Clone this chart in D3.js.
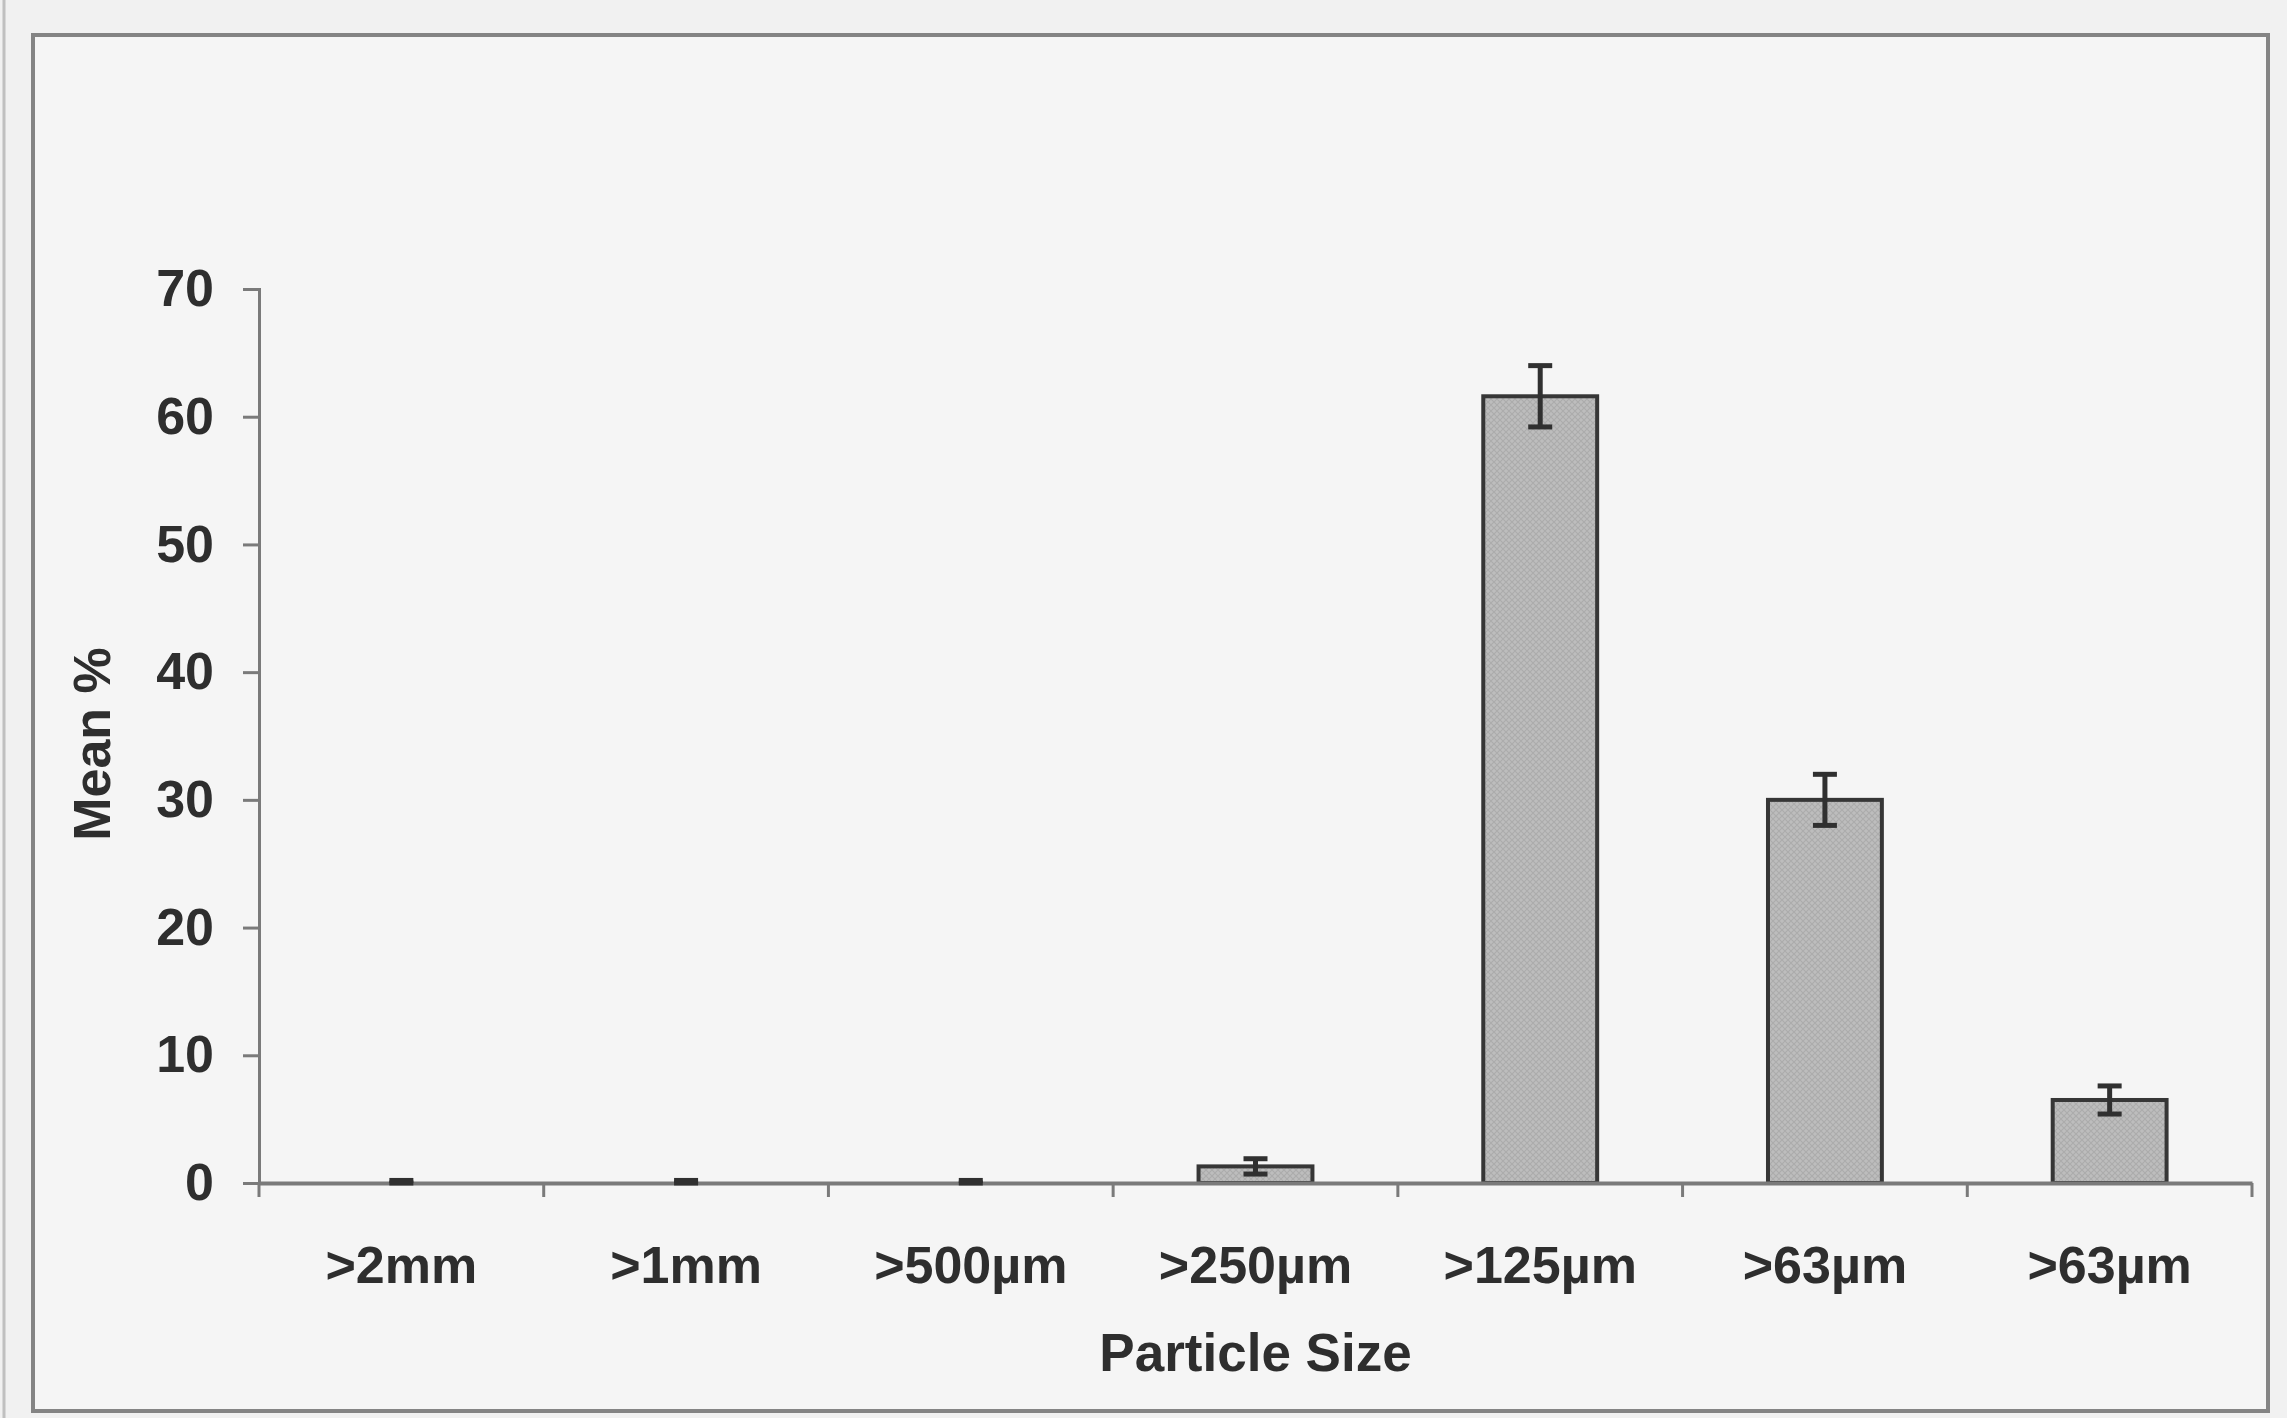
<!DOCTYPE html>
<html>
<head>
<meta charset="utf-8">
<script src="https://cdn.jsdelivr.net/npm/d3@7"></script>
<style>
  html, body { margin: 0; padding: 0; background: #f3f3f3; }
  svg { display: block; }
  text { font-family: "Liberation Sans", Arial, sans-serif; font-weight: bold; fill: #2e2e2e; }
</style>
</head>
<body>
<svg id="chart" width="2287" height="1418"></svg>
<script>
// Particle size fractions and their mean share (%) with error bars
const categories = [">2mm", ">1mm", ">500µm", ">250µm", ">125µm", ">63µm", ">63µm"];
const meanPct    = [0.05, 0.05, 0.05, 1.3, 61.6, 30.0, 6.5];
const errPct     = [0.15, 0.15, 0.15, 0.6, 2.4, 2.0, 1.1];
const yTicks     = [0, 10, 20, 30, 40, 50, 60, 70];

const svg = d3.select("#chart");
const W = 2287, H = 1418;

// plot area
const x0 = 259, x1 = 2252, yBase = 1183, yTop = 289;

// page background and chart frame
svg.append("rect").attr("width", W).attr("height", H).attr("fill", "#f1f1f1");
svg.append("line").attr("x1", 4).attr("x2", 4).attr("y1", 0).attr("y2", H)
  .attr("stroke", "#c0c0c0").attr("stroke-width", 3);
svg.append("rect")
  .attr("x", 33).attr("y", 35).attr("width", 2235).attr("height", 1376)
  .attr("fill", "#f5f5f5").attr("stroke", "#848484").attr("stroke-width", 4);

// bar fill: fine crosshatch
const defs = svg.append("defs");
const pat = defs.append("pattern").attr("id", "hatch")
  .attr("width", 6).attr("height", 6).attr("patternUnits", "userSpaceOnUse");
pat.append("rect").attr("width", 6).attr("height", 6).attr("fill", "#bdbdbd");
pat.append("path").attr("d", "M0,0 L6,6 M6,0 L0,6")
  .attr("stroke", "#acacac").attr("stroke-width", 1.2);

const idx = d3.range(categories.length);
const x = d3.scaleBand().domain(idx).range([x0, x1]).paddingInner(0.6).paddingOuter(0.3);
const edge = d3.scaleLinear().domain([0, categories.length]).range([x0, x1]);
const y = d3.scaleLinear().domain([0, 70]).range([yBase, yTop]);

// y axis
const yAxis = svg.append("g").attr("transform", `translate(${x0},0)`)
  .call(d3.axisLeft(y).tickValues(yTicks).tickSize(16).tickPadding(29).tickFormat(d3.format("d")));
yAxis.select(".domain").attr("stroke", "#7a7a7a").attr("stroke-width", 3);
yAxis.selectAll(".tick line").attr("stroke", "#7a7a7a").attr("stroke-width", 3);
yAxis.selectAll("text").style("font-size", "52px").attr("fill", "#2e2e2e");

// bars (outline only where the bar is tall enough to stand off the axis)
svg.append("g").selectAll("rect").data(idx).join("rect")
  .attr("x", i => x(i))
  .attr("y", i => y(meanPct[i]))
  .attr("width", x.bandwidth())
  .attr("height", i => yBase - y(meanPct[i]))
  .attr("fill", "url(#hatch)")
  .attr("stroke", i => (yBase - y(meanPct[i]) > 3 ? "#363636" : "none"))
  .attr("stroke-width", 4);

// x axis: line, ticks at category boundaries, labels centred under bars
const xAxis = svg.append("g").attr("transform", `translate(0,${yBase})`)
  .call(d3.axisBottom(x).tickSize(0).tickPadding(63).tickFormat(i => categories[i]));
xAxis.select(".domain").attr("stroke", "#7a7a7a").attr("stroke-width", 4);
xAxis.selectAll("text").style("font-size", "52px").attr("fill", "#2e2e2e");
svg.append("g").selectAll("line").data(d3.range(categories.length + 1)).join("line")
  .attr("x1", k => edge(k)).attr("x2", k => edge(k))
  .attr("y1", yBase).attr("y2", yBase + 14)
  .attr("stroke", "#7a7a7a").attr("stroke-width", 3);

// error bars
const cap = 24;
const eb = svg.append("g").attr("stroke", "#303030").attr("stroke-width", 5);
idx.forEach(i => {
  const cx = x(i) + x.bandwidth() / 2;
  const hi = y(meanPct[i] + errPct[i]), lo = y(Math.max(0, meanPct[i] - errPct[i]));
  eb.append("line").attr("x1", cx).attr("x2", cx).attr("y1", hi).attr("y2", lo);
  eb.append("line").attr("x1", cx - cap / 2).attr("x2", cx + cap / 2).attr("y1", hi).attr("y2", hi);
  eb.append("line").attr("x1", cx - cap / 2).attr("x2", cx + cap / 2).attr("y1", lo).attr("y2", lo);
});

// axis titles
svg.append("text")
  .attr("x", (x0 + x1) / 2).attr("y", 1371)
  .attr("text-anchor", "middle").style("font-size", "53px")
  .text("Particle Size");
svg.append("text")
  .attr("transform", `translate(110,744) rotate(-90)`)
  .attr("text-anchor", "middle").style("font-size", "52px")
  .text("Mean %");
</script>
</body>
</html>
